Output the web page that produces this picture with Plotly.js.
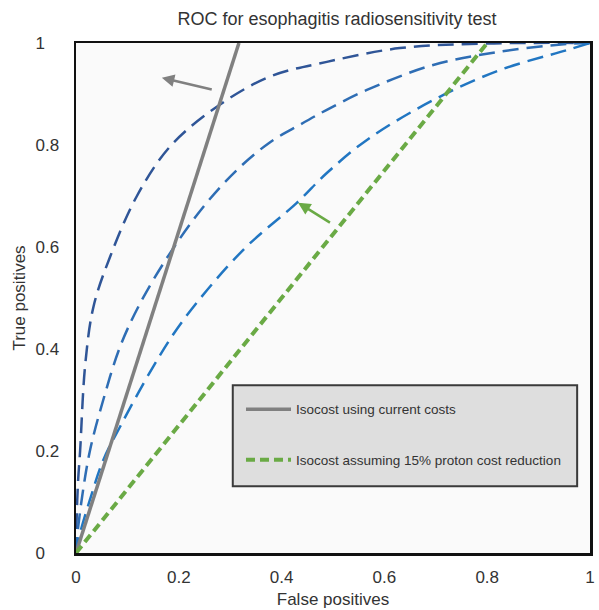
<!DOCTYPE html>
<html>
<head>
<meta charset="utf-8">
<script src="https://cdn.plot.ly/plotly-3.0.1.min.js"></script>
<style>html,body{margin:0;padding:0;background:#fff;}#chart{width:599px;height:610px;}</style>
</head>
<body>
<div id="chart"></div>
<script>
// ROC curves
var roc1X = [0, 0.001, 0.004, 0.008, 0.018, 0.034, 0.066, 0.118, 0.183, 0.274, 0.377, 0.488, 0.63, 0.8, 1];
var roc1Y = [0, 0.06, 0.14, 0.20, 0.37, 0.483, 0.58, 0.699, 0.797, 0.875, 0.934, 0.963, 0.99, 0.999, 1];
var roc2X = [0, 0.002, 0.011, 0.027, 0.053, 0.086, 0.125, 0.183, 0.248, 0.313, 0.377, 0.436, 0.488, 0.566, 0.695, 0.825, 0.955, 1];
var roc2Y = [0, 0.03, 0.104, 0.20, 0.30, 0.405, 0.49, 0.588, 0.679, 0.751, 0.805, 0.84, 0.869, 0.908, 0.957, 0.983, 0.998, 1];
var roc3X = [0, 0.003, 0.027, 0.053, 0.086, 0.150, 0.209, 0.325, 0.429, 0.488, 0.566, 0.695, 0.825, 0.955, 1];
var roc3Y = [0, 0.02, 0.104, 0.182, 0.248, 0.365, 0.457, 0.594, 0.686, 0.745, 0.810, 0.888, 0.947, 0.986, 1];
// Isocost lines
var isoCurrentX = [0, 0.317];
var isoCurrentY = [0, 1];
var isoReducedX = [0, 0.80];
var isoReducedY = [0, 1];
var seriesNames = ["Isocost using current costs", "Isocost assuming 15% proton cost reduction"];
// Arrows: [tailX, tailY, headX, headY]
var arrowGray = [0.267, 0.908, 0.167, 0.932];
var arrowGreen = [0.497, 0.646, 0.432, 0.687];
var tickVals = [0, 0.2, 0.4, 0.6, 0.8, 1];
var xTickText = ["0", "0.2", "0.4", "0.6", "0.8", "1"];
var NB = "\u00a0";
var yTickText = ["0" + NB + NB + NB, "0.2", "0.4", "0.6", "0.8", "1" + NB + NB + NB];

var FONT = "Liberation Sans, Arial, sans-serif";
var blueDash = "16px,8px";

var traces = [
  {x: roc1X, y: roc1Y, mode: "lines", line: {color: "#2F5597", width: 2.5, dash: blueDash, shape: "spline"}, showlegend: false, hoverinfo: "skip"},
  {x: roc2X, y: roc2Y, mode: "lines", line: {color: "#2E6DB4", width: 2.5, dash: blueDash, shape: "spline"}, showlegend: false, hoverinfo: "skip"},
  {x: roc3X, y: roc3Y, mode: "lines", line: {color: "#2176C2", width: 2.5, dash: blueDash, shape: "spline"}, showlegend: false, hoverinfo: "skip"},
  {x: isoCurrentX, y: isoCurrentY, mode: "lines", name: seriesNames[0], legendgroup: "a", line: {color: "#808080", width: 3.5}},
  {x: isoReducedX, y: isoReducedY, mode: "lines", name: seriesNames[1], legendgroup: "b", line: {color: "#6AAA45", width: 4, dash: "9px,5px"}}
];

function arrow(a, color) {
  return {x: a[2], y: a[3], ax: a[0], ay: a[1], xref: "x", yref: "y", axref: "x", ayref: "y",
    showarrow: true, arrowhead: 2, arrowsize: 1, arrowwidth: 2.5, arrowcolor: color, text: ""};
}

var layout = {
  width: 599, height: 610,
  margin: {l: 76, r: 9, t: 43, b: 57},
  paper_bgcolor: "#ffffff",
  plot_bgcolor: "#fafafa",
  font: {family: FONT, size: 17, color: "#333"},
  title: {text: "ROC for esophagitis radiosensitivity test", font: {family: FONT, size: 18, color: "#333"}, x: 0.5626, xanchor: "center", y: 0.97, yanchor: "middle"},
  xaxis: {range: [0, 1], tickvals: tickVals, ticktext: xTickText, showgrid: false, zeroline: false,
    showline: true, mirror: true, linecolor: "#111", linewidth: 2.5, ticks: "", ticklabelstandoff: 7,
    title: {text: "False positives", font: {size: 17}, standoff: 7}, fixedrange: true},
  yaxis: {range: [0, 1], tickvals: tickVals, ticktext: yTickText, showgrid: false, zeroline: false,
    showline: true, mirror: true, linecolor: "#111", linewidth: 2.5, ticks: "", ticklabelstandoff: 11,
    title: {text: "True positives", font: {size: 17}, standoff: 6}, fixedrange: true},
  showlegend: true,
  legend: {x: 0.321, y: 0.312, xanchor: "left", yanchor: "top", bgcolor: "rgba(0,0,0,0)", borderwidth: 0,
    font: {size: 13.5, color: "#333"}, tracegroupgap: 30, traceorder: "grouped", itemwidth: 45},
  shapes: [{type: "rect", xref: "paper", yref: "paper", x0: 0.305, x1: 0.975, y0: 0.131, y1: 0.329,
    fillcolor: "#dedede", line: {color: "#3a3a3a", width: 2}, layer: "above"}],
  annotations: [arrow(arrowGray, "#808080"), arrow(arrowGreen, "#6AAA45")]
};

Plotly.newPlot("chart", traces, layout, {displayModeBar: false, staticPlot: true});
</script>
</body>
</html>
